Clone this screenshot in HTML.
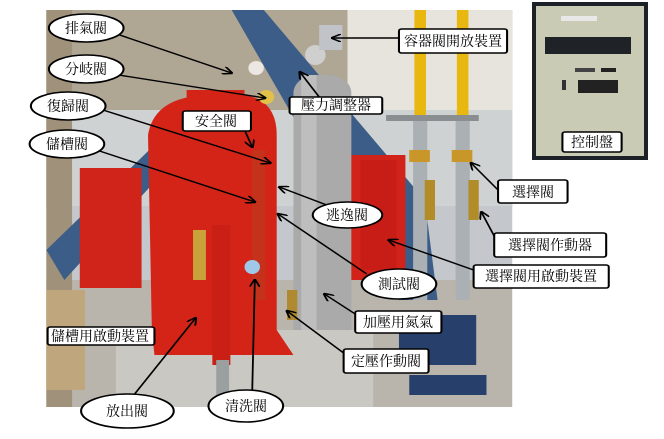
<!DOCTYPE html>
<html><head><meta charset="utf-8"><style>
html,body{margin:0;padding:0;background:#fff;width:664px;height:439px;overflow:hidden}
svg{display:block}
text{font-family:"Liberation Serif","Noto Serif CJK SC","Noto Sans CJK TC",serif;font-size:14px;fill:#000}
</style></head><body>
<svg width="664" height="439" viewBox="0 0 664 439" xmlns="http://www.w3.org/2000/svg">
<defs><marker id="a" markerWidth="8" markerHeight="8" refX="7" refY="4" orient="auto" markerUnits="userSpaceOnUse"><path d="M0,0 L8,4 L0,8" fill="none" stroke="#000" stroke-width="1.5"/></marker></defs>
<g transform="scale(1.287,1)">
<rect x="36" y="10" width="362" height="197" fill="#b0a694"/>
<rect x="270" y="10" width="128" height="120" fill="#e6e4dc"/>
<rect x="36" y="110" width="362" height="96" fill="#cfd2d2"/>
<rect x="36" y="206" width="362" height="80" fill="#c4c8cc"/>
<rect x="36" y="280" width="362" height="127" fill="#b9b5ad"/>
<rect x="36" y="10" width="20" height="397" fill="#a0927a"/>
<polygon points="180,10 205,10 330,200 340,300 310,300" fill="#3c5d87"/>
<polygon points="36,250 140,120 150,140 50,280" fill="#3c5d87"/>
<rect x="322" y="10" width="9" height="110" fill="#e9b810"/>
<rect x="355" y="10" width="9" height="110" fill="#e9b810"/>
<rect x="321" y="120" width="11" height="180" fill="#aab0b4"/>
<rect x="354" y="120" width="11" height="180" fill="#aab0b4"/>
<rect x="300" y="115" width="72" height="6" fill="#8a8e90"/>
<rect x="318" y="150" width="16" height="12" fill="#c9962a"/>
<rect x="351" y="150" width="16" height="12" fill="#c9962a"/>
<rect x="330" y="180" width="8" height="40" fill="#b38c2a"/>
<rect x="364" y="180" width="8" height="40" fill="#b38c2a"/>
<rect x="270" y="155" width="45" height="125" fill="#d2231a"/>
<rect x="280" y="160" width="28" height="110" fill="#c81d16"/>
<rect x="310" y="315" width="60" height="50" fill="#27406b"/>
<rect x="318" y="375" width="60" height="20" fill="#27406b"/>
<rect x="228" y="75" width="45" height="300" rx="18" fill="#a9aaa9"/>
<rect x="234" y="75" width="12" height="300" fill="#bdbebd"/>
<rect x="62" y="168" width="48" height="120" fill="#d0231a"/>
<rect x="36" y="290" width="30" height="100" fill="#c0a67c"/>
<rect x="90" y="330" width="200" height="77" fill="#c9c8c2"/>
<path d="M115,135 Q120,95 165,95 L190,95 Q215,100 215,135 L215,330 L228,355 L120,355 L118,330 Z" fill="#d42418"/>
<rect x="145" y="90" width="45" height="15" fill="#d42418"/>
<rect x="165" y="225" width="14" height="140" fill="#c91f15"/>
<rect x="168" y="360" width="10" height="47" fill="#9aa0a0"/>
<rect x="150" y="230" width="10" height="50" fill="#caa23c"/>
<rect x="196" y="150" width="10" height="150" fill="#c5321c"/>
<rect x="223" y="290" width="8" height="30" fill="#b08a30"/>
<ellipse cx="199" cy="68" rx="6" ry="7" fill="#ede7e4"/>
<ellipse cx="207" cy="97" rx="6" ry="7" fill="#e2c14a"/>
<ellipse cx="245" cy="55" rx="8" ry="10" fill="#cfcfcf"/>
<rect x="248" y="25" width="18" height="25" fill="#c0c4c8"/>
<ellipse cx="196" cy="267" rx="6" ry="7" fill="#9ec9e8"/>
<g stroke="#000" stroke-width="1.4" fill="none" marker-end="url(#a)">
<line x1="93" y1="35" x2="180" y2="73"/>
<line x1="92" y1="75" x2="206" y2="98"/>
<line x1="80" y1="110" x2="210" y2="163"/>
<line x1="190" y1="130" x2="196" y2="147"/>
<line x1="75" y1="150" x2="198" y2="202"/>
<line x1="248" y1="97" x2="233" y2="72"/>
<line x1="310" y1="38" x2="258" y2="38"/>
<line x1="260" y1="208" x2="217" y2="187"/>
<line x1="387" y1="190" x2="366" y2="163"/>
<line x1="384" y1="236" x2="374" y2="212"/>
<line x1="368" y1="270" x2="302" y2="240"/>
<line x1="285" y1="274" x2="216" y2="214"/>
<line x1="276" y1="314" x2="252" y2="294"/>
<line x1="267" y1="353" x2="223" y2="311"/>
<line x1="104" y1="395" x2="152" y2="318"/>
<line x1="196" y1="390" x2="198" y2="280"/>
</g>
</g>
<!-- control panel photo -->
<rect x="532" y="2" width="116" height="158" fill="#1c2128"/>
<rect x="536" y="6" width="108" height="150" fill="#c9cbb4"/>
<rect x="561" y="16" width="36" height="5" fill="#e8e8e8"/>
<rect x="545" y="37" width="86" height="17" fill="#1f2226"/>
<rect x="575" y="68" width="20" height="4" fill="#444"/>
<rect x="601" y="68" width="15" height="4" fill="#222"/>
<rect x="578" y="80" width="40" height="13" fill="#222"/>
<rect x="562" y="80" width="4" height="10" fill="#333"/>
<g transform="scale(1.287,1)" stroke="#000" stroke-width="1.6" fill="#fff">
<ellipse cx="67" cy="28" rx="29" ry="14"/>
<ellipse cx="67" cy="69" rx="29" ry="14"/>
<ellipse cx="53" cy="106" rx="29" ry="14"/>
<ellipse cx="52" cy="144" rx="29" ry="14"/>
<ellipse cx="270" cy="215" rx="27" ry="13"/>
<ellipse cx="310" cy="284" rx="29" ry="15"/>
<ellipse cx="99" cy="411" rx="36" ry="17"/>
<ellipse cx="191" cy="406" rx="29" ry="16"/>
<rect x="142" y="111" width="53" height="20" rx="2"/>
<rect x="225" y="97" width="72" height="17" rx="2"/>
<rect x="310" y="29" width="84" height="24" rx="2"/>
<rect x="437" y="132" width="46" height="20" rx="2"/>
<rect x="387" y="180" width="54" height="23" rx="2"/>
<rect x="384" y="233" width="87" height="24" rx="2"/>
<rect x="368" y="265" width="105" height="23" rx="2"/>
<rect x="276" y="311" width="67" height="22" rx="2"/>
<rect x="267" y="349" width="66" height="24" rx="2"/>
<rect x="37" y="327" width="83" height="18" rx="2"/>
</g>
<g text-anchor="middle">
<text x="86" y="33">排氣閥</text>
<text x="86" y="74">分岐閥</text>
<text x="68" y="111">復歸閥</text>
<text x="67" y="149">儲槽閥</text>
<text x="347" y="220">逃逸閥</text>
<text x="399" y="289">測試閥</text>
<text x="127" y="416">放出閥</text>
<text x="246" y="411">清洗閥</text>
<text x="216" y="126">安全閥</text>
<text x="336" y="110">壓力調整器</text>
<text x="453" y="46">容器閥開放裝置</text>
<text x="592" y="147">控制盤</text>
<text x="533" y="197">選擇閥</text>
<text x="550" y="250">選擇閥作動器</text>
<text x="541" y="281">選擇閥用啟動裝置</text>
<text x="398" y="327">加壓用氮氣</text>
<text x="386" y="366">定壓作動閥</text>
<text x="100" y="341">儲槽用啟動裝置</text>
</g>
</svg>
</body></html>
